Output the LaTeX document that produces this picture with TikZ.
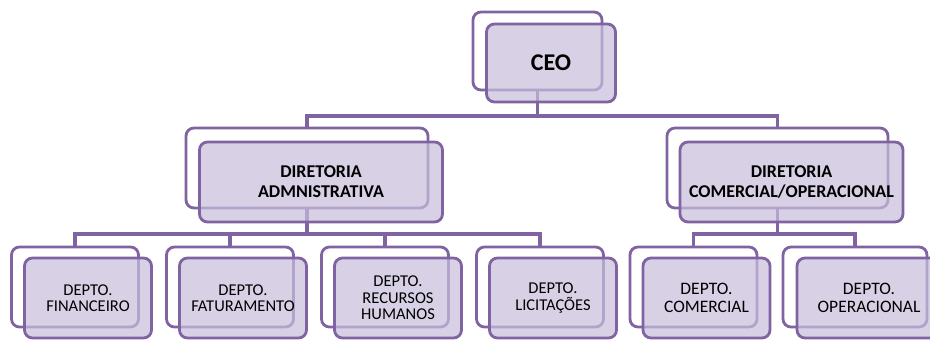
\documentclass[tikz,border=0pt]{standalone}
\usepackage{fontspec}
\setmainfont{Carlito}
\definecolor{purp}{RGB}{128,100,162}
\definecolor{lav}{RGB}{200,190,220}
\begin{document}
\begin{tikzpicture}[x=1pt,y=-1pt,
  box/.style={draw=purp, line width=2.8pt, rounded corners=8pt, rectangle, inner sep=0pt},
  back/.style={box, fill=white},
  front/.style={box, fill=lav, fill opacity=0.7, text opacity=1, align=center, text=black},
  link/.style={draw=purp, line width=3.2pt},
  topsize/.style={minimum width=129pt, minimum height=78pt},
  midsize/.style={minimum height=80pt},
  lowsize/.style={minimum width=127pt, minimum height=80pt},
  ceofont/.style={font=\fontsize{24}{28}\selectfont\bfseries},
  dirfont/.style={font=\fontsize{18}{20}\selectfont\bfseries},
  lowfont/.style={font=\fontsize{16.5}{16.5}\selectfont},
  lowfontb/.style={font=\fontsize{17.5}{18}\selectfont}]
\useasboundingbox[fill=white] (0,0) rectangle (930,340);
% back boxes
\node[back, topsize] (ceoB) at (537.5,51) {};
\node[back, midsize, minimum width=242pt] (admB) at (307,168) {};
\node[back, midsize, minimum width=221pt] (comDB) at (777.5,168) {};
\node[back, lowsize] (finB) at (75,287) {};
\node[back, lowsize] (fatB) at (230,287) {};
\node[back, lowsize] (rhB) at (385,287) {};
\node[back, lowsize] (licB) at (540,287) {};
\node[back, lowsize] (comB) at (693.5,287) {};
\node[back, lowsize, minimum width=144pt] (opeB) at (855,287) {};
% connectors
\coordinate (busA) at (0,116);
\coordinate (busB) at (0,234);
\draw[link] (ceoB.south) -- (ceoB.south |- busA);
\draw[link] (admB.north) |- (comDB.north |- busA) -- (comDB.north);
\draw[link] (admB.south) -- (admB.south |- busB);
\draw[link] (finB.north) |- (licB.north |- busB) -- (licB.north);
\draw[link] (fatB.north) -- (fatB.north |- busB);
\draw[link] (rhB.north) -- (rhB.north |- busB);
\draw[link] (comDB.south) -- (comDB.south |- busB);
\draw[link] (comB.north) |- (opeB.north |- busB) -- (opeB.north);
% front boxes
\node[front, topsize, ceofont] (ceo) at ([shift={(13.5,12)}]ceoB.center) {CEO};
\node[front, midsize, minimum width=243pt, dirfont] (adm) at ([shift={(14,14)}]admB.center) {DIRETORIA\\ADMNISTRATIVA};
\node[front, midsize, minimum width=223pt, dirfont] (comD) at ([shift={(14,14)}]comDB.center) {DIRETORIA\\COMERCIAL/OPERACIONAL};
\node[front, lowsize, lowfont] (fin) at ([shift={(13,11)}]finB.center) {DEPTO.\\FINANCEIRO};
\node[front, lowsize, lowfont] (fat) at ([shift={(13,11)}]fatB.center) {DEPTO.\\FATURAMENTO};
\node[front, lowsize, lowfont] (rh) at ([shift={(13,11)}]rhB.center) {DEPTO.\\RECURSOS\\HUMANOS};
\node[front, lowsize, lowfont] (lic) at ([shift={(13,11)}]licB.center) {DEPTO.\\LICITAÇÕES};
\node[front, lowsize, lowfontb] (com) at ([shift={(13,11)}]comB.center) {DEPTO.\\COMERCIAL};
\node[front, lowsize, minimum width=144pt, lowfontb] (ope) at ([shift={(14,11)}]opeB.center) {DEPTO.\\OPERACIONAL};
\end{tikzpicture}
\end{document}
